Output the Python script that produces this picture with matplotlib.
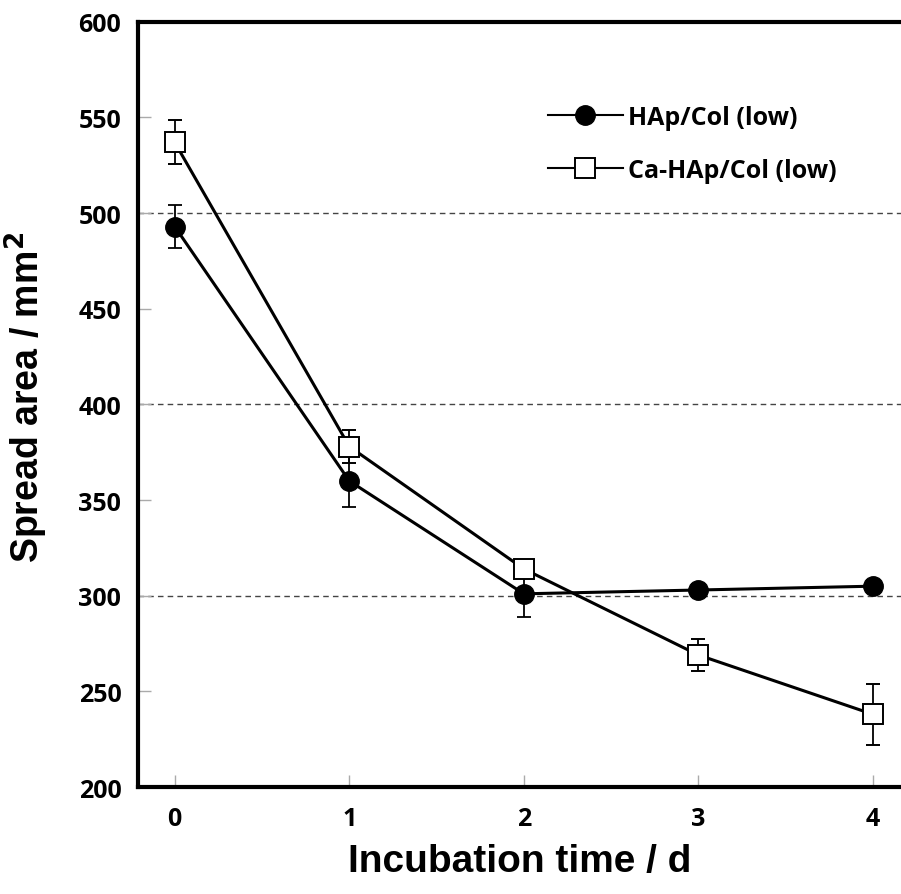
import matplotlib.pyplot as plt
from matplotlib import font_manager

days = [0, 1, 2, 3, 4]
hap_mean = [493, 360, 301, 303, 305]
hap_err = [11, 13.5, 12, 3, 3]
cahap_mean = [537, 378, 314, 269, 238]
cahap_err = [11.5, 8.5, 4, 8.5, 16]
yticks = [200, 250, 300, 350, 400, 450, 500, 550, 600]
grid_levels = [300, 400, 500]

names = {f.name for f in font_manager.fontManager.ttflist}
label_font = "Liberation Sans Narrow" if "Liberation Sans Narrow" in names else "Liberation Sans"
tick_font = "Open Sans"

fig = plt.figure(figsize=(9.01, 8.95), dpi=100)
ax = fig.add_axes([0.1532, 0.1195, 0.8468, 0.855])

for lv in grid_levels:
    ax.axhline(lv, color="#444444", lw=1.0, ls=(0, (4, 3)), zorder=1)

hap = ax.errorbar(days, hap_mean, yerr=hap_err, color="black", lw=2.2, marker="o",
                  markersize=14, markerfacecolor="black", markeredgecolor="black",
                  ecolor="black", elinewidth=1.3, capsize=5, capthick=1.3, zorder=3)
cahap = ax.errorbar(days, cahap_mean, yerr=cahap_err, color="black", lw=2.2, marker="s",
                    markersize=15, markerfacecolor="white", markeredgecolor="black",
                    markeredgewidth=1.4, ecolor="black", elinewidth=1.3, capsize=5,
                    capthick=1.3, zorder=4)

ax.set_xlim(-0.21, 4.16)
ax.set_ylim(200, 600)
ax.set_xticks(days)
ax.set_yticks(yticks)
ax.tick_params(direction="in", length=9, width=1, color="#aaaaaa", pad=14)
ax.tick_params(axis="y", pad=12)
for lab in ax.get_xticklabels() + ax.get_yticklabels():
    lab.set_fontfamily(tick_font)
    lab.set_fontweight("bold")
    lab.set_fontsize(18)

for side in ["left", "bottom", "top"]:
    ax.spines[side].set_linewidth(3.0)
ax.spines["right"].set_visible(False)

ax.set_xlabel("Incubation time / d", fontfamily=label_font, fontweight="bold",
              fontsize=28, labelpad=8)
ax.set_ylabel("Spread area / mm$^\\mathbf{2}$", fontfamily=label_font, fontweight="bold",
              fontsize=27)
ax.yaxis.set_label_coords(-0.115, 0.51)

leg = ax.legend([hap.lines[0], cahap.lines[0]], ["HAp/Col (low)", "Ca-HAp/Col (low)"],
                loc="upper left", bbox_to_anchor=(0.537, 0.891), frameon=False,
                borderpad=0, borderaxespad=0, handlelength=3.0, handletextpad=0.2,
                labelspacing=1.12,
                prop={"family": tick_font, "weight": "bold", "size": 18})
for h in leg.legend_handles:
    h.set_linewidth(1.5)

fig.savefig("out.png", dpi=100)
